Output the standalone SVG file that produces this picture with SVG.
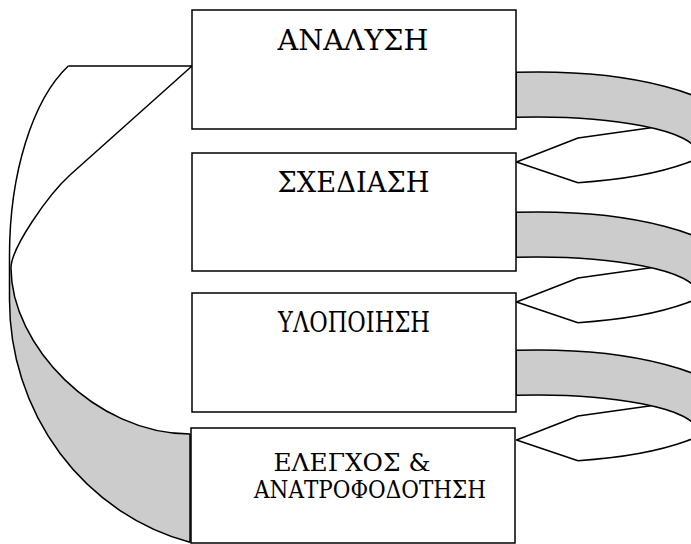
<svg xmlns="http://www.w3.org/2000/svg" width="691" height="544" viewBox="0 0 691 544">
<defs>
<style>
.box{fill:#ffffff;stroke:#000000;stroke-width:1.5}
.band{fill:#cccccc;stroke:#000000;stroke-width:1.5;stroke-linejoin:round}
.ln{fill:none;stroke:#000000;stroke-width:1.5;stroke-linejoin:round}
.lbl{font-family:"DejaVu Serif","Liberation Serif",serif;font-size:28px;fill:#000000}
.lbl2{font-family:"DejaVu Serif","Liberation Serif",serif;font-size:24.5px;fill:#000000}
</style>
<g id="rarrow">
<path class="band" d="M516,72.3 A193,56 0 0 1 729,128 L696,152 A160,35 0 0 0 516,117.3 Z"/>
<path class="ln" d="M578,182.7 A193,56 0 0 0 729,128"/>
<path class="ln" d="M651,127.7 L578,138 L516.5,162 L578,182.7"/>
</g>
</defs>
<rect width="691" height="544" fill="#ffffff"/>
<g id="connectors">
<use href="#rarrow"/>
<use href="#rarrow" transform="translate(0,140)"/>
<use href="#rarrow" transform="translate(0,278)"/>
<path d="M10,268 L9.5,300 A240,250 0 0 0 190,542.2 L190,434 C95,434 11,345 11,268 Z" fill="#cccccc" stroke="none"/>
<path class="ln" d="M68.3,66 A100,208 0 0 0 9.5,255 L9.5,300 A240,250 0 0 0 190,542.2"/>
<path class="ln" d="M68.3,66 L192,66 L70,175 C48,195 11,248 11,268 C11,345 95,434 190,434"/>
<path class="ln" d="M190,434 L190,542.2"/>
</g>
<g id="n1">
<rect class="box" x="192" y="10" width="324" height="119"/>
<text class="lbl" x="277.5" y="50" textLength="151" lengthAdjust="spacingAndGlyphs">ΑΝΑΛΥΣΗ</text>
</g>
<g id="n2">
<rect class="box" x="192" y="153" width="324" height="118"/>
<text class="lbl" x="277.5" y="191.5" textLength="152" lengthAdjust="spacingAndGlyphs">ΣΧΕΔΙΑΣΗ</text>
</g>
<g id="n3">
<rect class="box" x="192" y="293" width="324" height="119"/>
<text class="lbl" x="278" y="332" textLength="152" lengthAdjust="spacingAndGlyphs">ΥΛΟΠΟΙΗΣΗ</text>
</g>
<g id="n4">
<rect class="box" x="191" y="428" width="324" height="115"/>
<text class="lbl2" x="273.5" y="470.5" textLength="157" lengthAdjust="spacingAndGlyphs">ΕΛΕΓΧΟΣ &amp;</text>
<text class="lbl2" x="254" y="497.5" textLength="232" lengthAdjust="spacingAndGlyphs">ΑΝΑΤΡΟΦΟΔΟΤΗΣΗ</text>
</g>
</svg>
